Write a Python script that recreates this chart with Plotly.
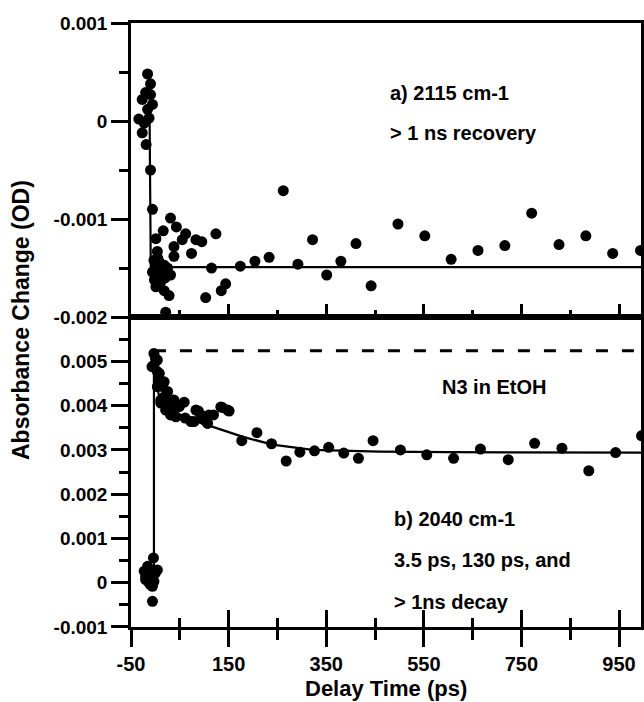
import plotly.graph_objects as go

# ---- data ----
# panel a) 2115 cm-1
a_t = [-16, -10, -20, -10, -27, -6, -16, -34, -23, -13, -27, -19, -10, -6,
       1, 16, 31, 43, 62, 55, 83, 95, 124, 38, 38, 74, 4, -3, 8, 18, -6, 4, 31,
       11, 1, 18, 28, 21, 5, 10, 0, 14, 8, -2, 20, 25,
       103, 135, 144, 115, 174, 204, 233, 262, 292, 322, 351, 380, 411, 442,
       497, 552, 606, 661, 716, 771, 827, 882, 937, 994]
a_od = [0.00048, 0.00038, 0.00029, 0.00027, 0.00022, 0.00017, 0.00012, 0.00002,
        -0.00002, 0.00003, -0.00012, -0.00024, -0.0005, -0.0009,
        -0.0012, -0.00112, -0.00099, -0.00108, -0.00115, -0.00121, -0.00121,
        -0.00123, -0.00115, -0.00128, -0.00138, -0.00135, -0.00133, -0.00142,
        -0.00144, -0.00147, -0.00154, -0.00159, -0.00157, -0.00164, -0.00169,
        -0.00173, -0.00178, -0.00195, -0.0014, -0.0015, -0.0015, -0.00155,
        -0.00162, -0.00162, -0.0016, -0.0015,
        -0.0018, -0.00173, -0.00166, -0.0015, -0.00148, -0.00143, -0.00139,
        -0.00071, -0.00146, -0.00121, -0.00157, -0.00143, -0.00125, -0.00168,
        -0.00105, -0.00117, -0.00141, -0.00132, -0.00127, -0.00094, -0.00126,
        -0.00117, -0.00135, -0.00132]
a_fit_t = [-12, -9.5, 995]
a_fit_od = [0.0001, -0.00149, -0.00149]

# panel b) 2040 cm-1
b_t = [-4, -16, 0, -20, -6, -13, 4, -10, -6, -23, -3, -20, -10,
       -3, 0, -3, 4, -7, 8, 4, 8, 15, 18, 4, 18, 25, 38, 11, 11, 25, 21, 28,
       31, 35, 42, 49, 59, 61, 73, 79, 83, 88, 93, 100, 107, 110, 119, 134,
       137, 148, 151,
       177, 208, 238, 268, 296, 326, 355, 386, 416, 446, 502, 556, 611, 666,
       723, 777, 833, 888, 943, 996]
b_od = [0.00056, 0.00037, 0.00022, 0.00007, -0.00008, 0.0, 0.00029, 0.00014,
        -0.00042, 0.00026, 0.00003, 0.00014, -0.00005,
        0.00518, 0.00507, 0.00492, 0.00503, 0.00488, 0.00473, 0.00477, 0.00458,
        0.00443, 0.00454, 0.00443, 0.0042, 0.00432, 0.00413, 0.00413, 0.00406,
        0.00402, 0.0039, 0.00402, 0.00379, 0.00387, 0.00375, 0.00398, 0.00408,
        0.00372, 0.00364, 0.00364, 0.0039, 0.00388, 0.00379, 0.00368, 0.0036,
        0.00379, 0.00379, 0.00397, 0.00396, 0.0039, 0.00388,
        0.00321, 0.00339, 0.00314, 0.00275, 0.00295, 0.00298, 0.00306, 0.00293,
        0.00281, 0.00321, 0.003, 0.00289, 0.00281, 0.00302, 0.00278, 0.00315,
        0.00304, 0.00253, 0.00294, 0.00332]
b_fit_t = [-3, -3, 0, 3, 6, 10, 20, 30, 50, 73, 110, 150, 178, 240, 322, 459, 600, 995]
b_fit_od = [0.0002, 0.0052, 0.0048, 0.0045, 0.0043, 0.0041, 0.004, 0.0039, 0.0038,
            0.00368, 0.00355, 0.0034, 0.0033, 0.00312, 0.003, 0.00296, 0.00295, 0.00294]
b_peak_t = [-3, 995]
b_peak_od = [0.00524, 0.00524]

# axis ticks
x_range = [-50, 995]
x_tickvals = [-50, 150, 350, 550, 750, 950]
x_ticktext = ["-50", "150", "350", "550", "750", "950"]
a_tickvals = [-0.002, -0.001, 0, 0.001]
a_ticktext = ["-0.002", "-0.001", "0", "0.001"]
b_tickvals = [-0.001, 0, 0.001, 0.002, 0.003, 0.004, 0.005]
b_ticktext = ["-0.001", "0", "0.001", "0.002", "0.003", "0.004", "0.005"]

FONT = "Liberation Sans, Arial, Helvetica, sans-serif"
BOLD = dict(family=FONT, color="black", weight="bold")
LW = 2.5

fig = go.Figure()
mk = dict(color="black", size=11, line=dict(width=0))
fig.add_trace(go.Scatter(x=a_t, y=a_od, mode="markers", marker=mk,
                         xaxis="x", yaxis="y", showlegend=False))
fig.add_trace(go.Scatter(x=a_fit_t, y=a_fit_od, mode="lines",
                         line=dict(color="black", width=2.2),
                         xaxis="x", yaxis="y", showlegend=False))
fig.add_trace(go.Scatter(x=b_t, y=b_od, mode="markers", marker=mk,
                         xaxis="x2", yaxis="y2", showlegend=False))
fig.add_trace(go.Scatter(x=b_fit_t, y=b_fit_od, mode="lines",
                         line=dict(color="black", width=2.2),
                         xaxis="x2", yaxis="y2", showlegend=False))
fig.add_trace(go.Scatter(x=b_peak_t, y=b_peak_od, mode="lines",
                         line=dict(color="black", width=3, dash="12px,14px"),
                         xaxis="x2", yaxis="y2", showlegend=False))
# empty trace so the overlay axis (inner half of crossing ticks) is drawn
fig.add_trace(go.Scatter(x=[None], y=[None], mode="markers",
                         xaxis="x3", yaxis="y2", showlegend=False, hoverinfo="skip"))

split = 0.513
common_x = dict(range=x_range, tickmode="array", tickvals=x_tickvals,
                ticktext=x_ticktext, automargin=False,
                showline=True, linecolor="black", linewidth=LW,
                tickcolor="black", tickwidth=LW, showgrid=False, zeroline=False)
minor_x = dict(tickvals=[50, 250, 450, 650, 850], tickwidth=LW, tickcolor="black")
common_y = dict(tickmode="array", ticks="outside", ticklen=17, tickwidth=LW,
                tickcolor="black", automargin=False, showline=True,
                linecolor="black", linewidth=LW, mirror=True, showgrid=False,
                zeroline=False, tickfont=dict(**BOLD, size=19),
                minor=dict(ticks="outside", ticklen=9, tickwidth=LW,
                           tickcolor="black", dtick=0.0005, tick0=0))

fig.update_layout(
    width=644, height=702,
    margin=dict(l=131, r=3, t=23, b=75, autoexpand=False),
    paper_bgcolor="white", plot_bgcolor="white",
    xaxis=dict(**common_x, anchor="y", ticks="inside", ticklen=13,
               showticklabels=False, mirror=True,
               minor=dict(**minor_x, ticks="inside", ticklen=7)),
    xaxis2=dict(**common_x, anchor="y2", ticks="outside", ticklen=17,
                mirror=True, tickfont=dict(**BOLD, size=20),
                minor=dict(**minor_x, ticks="outside", ticklen=10)),
    xaxis3=dict(**common_x, anchor="y2", overlaying="x2", side="bottom",
                ticks="inside", ticklen=17, showticklabels=False,
                minor=dict(**minor_x, ticks="inside", ticklen=9)),
    yaxis=dict(**common_y, domain=[split, 1], range=[-0.002, 0.001],
               tickvals=a_tickvals, ticktext=a_ticktext),
    yaxis2=dict(**common_y, domain=[0, split], range=[-0.001, 0.006],
                tickvals=b_tickvals, ticktext=b_ticktext),
)

ann_font = dict(**BOLD, size=20)
fig.add_annotation(x=476, y=0.00029, xref="x", yref="y", text="a) 2115 cm-1",
                   showarrow=False, xanchor="left", yanchor="middle", font=ann_font)
fig.add_annotation(x=476, y=-0.00012, xref="x", yref="y", text="> 1 ns recovery",
                   showarrow=False, xanchor="left", yanchor="middle", font=ann_font)
fig.add_annotation(x=694, y=0.00442, xref="x2", yref="y2", text="N3 in EtOH",
                   showarrow=False, xanchor="center", yanchor="middle", font=ann_font)
fig.add_annotation(x=484, y=0.00145, xref="x2", yref="y2", text="b) 2040 cm-1",
                   showarrow=False, xanchor="left", yanchor="middle", font=ann_font)
fig.add_annotation(x=484, y=0.00052, xref="x2", yref="y2", text="3.5 ps, 130 ps, and",
                   showarrow=False, xanchor="left", yanchor="middle", font=ann_font)
fig.add_annotation(x=484, y=-0.00043, xref="x2", yref="y2", text="> 1ns decay",
                   showarrow=False, xanchor="left", yanchor="middle", font=ann_font)

# axis titles
fig.add_annotation(x=(386 - 131) / 510, y=(627 - 688) / 604, xref="paper", yref="paper",
                   text="Delay Time (ps)", showarrow=False, xanchor="center",
                   yanchor="middle", font=dict(**BOLD, size=22))
fig.add_annotation(x=(21 - 131) / 510, y=(627 - 320) / 604, xref="paper", yref="paper",
                   text="Absorbance Change (OD)", showarrow=False, textangle=-90,
                   xanchor="center", yanchor="middle", font=dict(**BOLD, size=23))

fig.write_html(
    "out.html",
    config={"displayModeBar": False},
    post_script="document.body.style.margin='0';document.body.style.overflow='hidden';",
)
